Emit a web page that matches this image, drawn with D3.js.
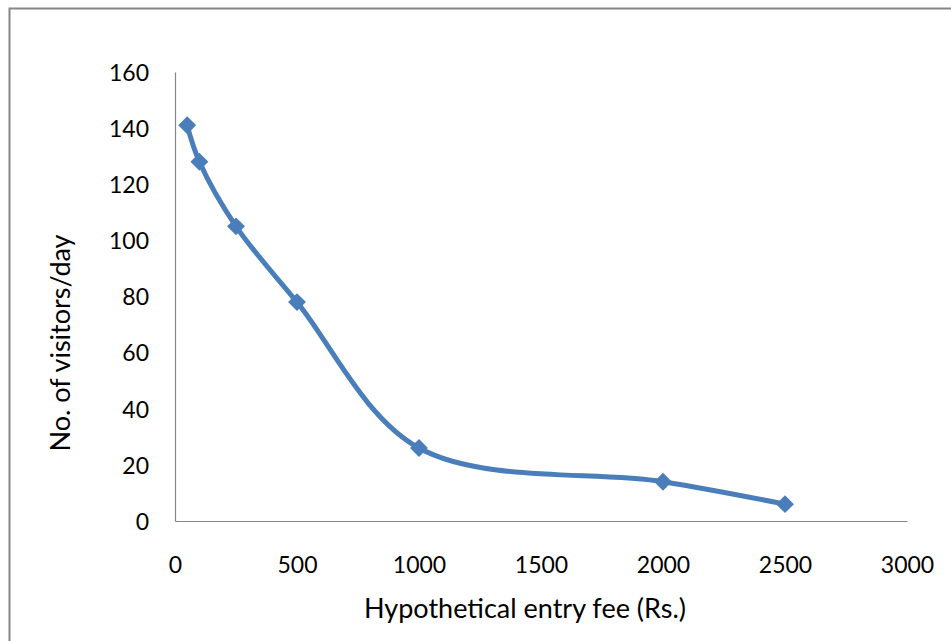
<!DOCTYPE html>
<html>
<head>
<meta charset="utf-8">
<script src="https://cdn.jsdelivr.net/npm/d3@7"></script>
<style>
  html, body { margin: 0; padding: 0; background: #fff; }
  svg { display: block; }
  text { font-family: Lato, "Open Sans", sans-serif; fill: #000; }
</style>
</head>
<body>
<svg id="chart" width="951" height="641"></svg>
<script>
const fees = [50, 100, 250, 500, 1000, 2000, 2500];
const visitors = [141, 128, 105, 78, 26, 14, 6];
const xTicks = [0, 500, 1000, 1500, 2000, 2500, 3000];
const yTicks = [0, 20, 40, 60, 80, 100, 120, 140, 160];
const xTitle = "Hypothetical entry fee (Rs.)";
const yTitle = "No. of visitors/day";

(function () {
const svg = d3.select("#chart");
const W = 951, H = 641;

svg.append("rect")
  .attr("x", 9.5).attr("y", 8.5)
  .attr("width", W + 20).attr("height", H + 20)
  .attr("fill", "#fff").attr("stroke", "#868686").attr("stroke-width", 2);

const pL = 175, pR = 907, pT = 72, pB = 521;
const x = d3.scaleLinear().domain([0, 3000]).range([pL, pR]);
const y = d3.scaleLinear().domain([0, 160]).range([pB, pT]);

const xAxis = svg.append("g").attr("transform", `translate(0,${pB})`)
  .call(d3.axisBottom(x).tickValues(xTicks).tickSize(0).tickFormat(d3.format("d")));
const yAxis = svg.append("g").attr("transform", `translate(${pL},0)`)
  .call(d3.axisLeft(y).tickValues(yTicks).tickSize(0).tickPadding(26).tickFormat(d3.format("d")));
[xAxis, yAxis].forEach(g => {
  g.select(".domain").attr("stroke", "#868686").attr("stroke-width", 1.2);
  g.selectAll("text").style("font-family", "Lato, 'Open Sans', sans-serif")
    .style("font-size", "23px").attr("fill", "#000");
});
xAxis.selectAll("text").attr("dy", null).attr("y", 52);
yAxis.selectAll("text").attr("dy", "0.36em");

svg.append("text").attr("x", 525).attr("y", 618)
  .attr("text-anchor", "middle").style("font-size", "27px").text(xTitle);
svg.append("text")
  .attr("transform", `translate(70,343) rotate(-90)`)
  .attr("text-anchor", "middle").style("font-size", "27px").text(yTitle);

const data = fees.map((f, i) => ({ f, v: visitors[i] }));
const line = d3.line().x(d => x(d.f)).y(d => y(d.v)).curve(d3.curveCatmullRom.alpha(0.5));
svg.append("path").datum(data).attr("d", line)
  .attr("fill", "none").attr("stroke", "#4a7ebb").attr("stroke-width", 5)
  .attr("stroke-linejoin", "round");

svg.selectAll("path.m").data(data).enter().append("path")
  .attr("class", "m")
  .attr("d", d3.symbol().type(d3.symbolSquare).size(160))
  .attr("transform", d => `translate(${x(d.f)},${y(d.v)}) rotate(45)`)
  .attr("fill", "#4a7ebb");
})();
</script>
</body>
</html>
